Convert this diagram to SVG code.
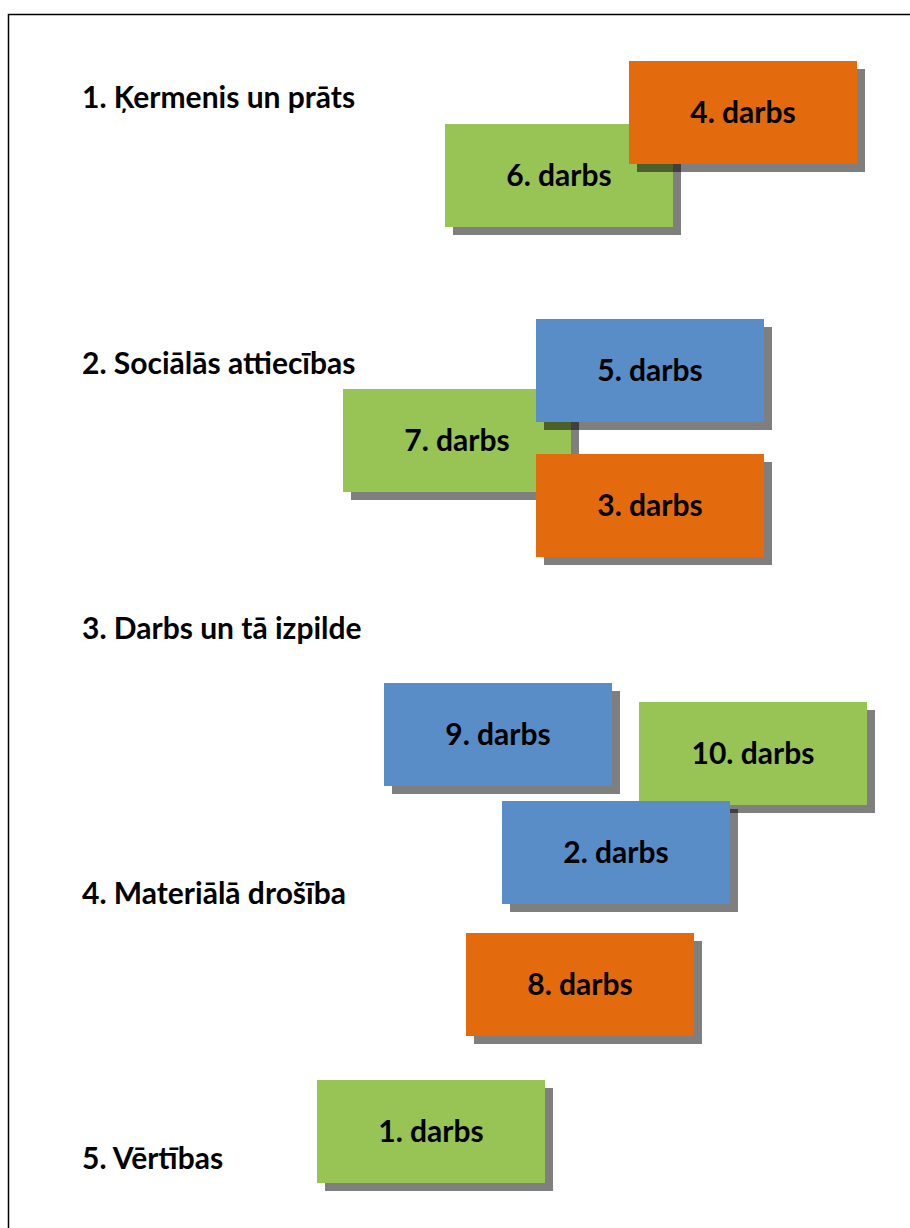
<svg xmlns="http://www.w3.org/2000/svg" width="910" height="1228" viewBox="0 0 910 1228">
  <style>
    text { font-family: Lato, "Open Sans", "Liberation Sans", sans-serif; font-weight: bold; font-size: 30px; fill: #000; }
    .label { text-anchor: middle; }
    .shadow { fill: #000; fill-opacity: 0.5; }
    .green { fill: #98c355; }
    .orange { fill: #e36b0e; }
    .blue { fill: #588dc8; }
  </style>
  <defs>
    <!-- one card: a drop shadow offset 8px, then the coloured face -->
    <rect id="card-shadow" x="8" y="8" width="228" height="103"/>
    <rect id="card-face" x="0" y="0" width="228" height="103"/>
  </defs>

  <rect x="0" y="0" width="910" height="1228" fill="#fff"/>
  <!-- page frame, running off the right and bottom edges -->
  <path d="M8.5,1228 V14.5 H910" fill="none" stroke="#000" stroke-width="1.5"/>

  <!-- section headings -->
  <g id="heading-1"><text x="82" y="108">1. Ķermenis un prāts</text></g>
  <g id="heading-2"><text x="82" y="374">2. Sociālās attiecības</text></g>
  <g id="heading-3"><text x="82" y="639">3. Darbs un tā izpilde</text></g>
  <g id="heading-4"><text x="82" y="904">4. Materiālā drošība</text></g>
  <g id="heading-5"><text x="82" y="1169">5. Vērtības</text></g>

  <g id="connectors"></g>

  <!-- work cards, drawn back to front -->
  <g id="darbs-6" transform="translate(445,124)">
    <use href="#card-shadow" class="shadow"/><use href="#card-face" class="green"/>
    <text class="label" x="114" y="62">6. darbs</text>
  </g>
  <g id="darbs-4" transform="translate(629,61)">
    <use href="#card-shadow" class="shadow"/><use href="#card-face" class="orange"/>
    <text class="label" x="114" y="62">4. darbs</text>
  </g>
  <g id="darbs-7" transform="translate(343,389)">
    <use href="#card-shadow" class="shadow"/><use href="#card-face" class="green"/>
    <text class="label" x="114" y="62">7. darbs</text>
  </g>
  <g id="darbs-5" transform="translate(536,319)">
    <use href="#card-shadow" class="shadow"/><use href="#card-face" class="blue"/>
    <text class="label" x="114" y="62">5. darbs</text>
  </g>
  <g id="darbs-3" transform="translate(536,454)">
    <use href="#card-shadow" class="shadow"/><use href="#card-face" class="orange"/>
    <text class="label" x="114" y="62">3. darbs</text>
  </g>
  <g id="darbs-9" transform="translate(384,683)">
    <use href="#card-shadow" class="shadow"/><use href="#card-face" class="blue"/>
    <text class="label" x="114" y="62">9. darbs</text>
  </g>
  <g id="darbs-10" transform="translate(639,702)">
    <use href="#card-shadow" class="shadow"/><use href="#card-face" class="green"/>
    <text class="label" x="114" y="62">10. darbs</text>
  </g>
  <g id="darbs-2" transform="translate(502,801)">
    <use href="#card-shadow" class="shadow"/><use href="#card-face" class="blue"/>
    <text class="label" x="114" y="62">2. darbs</text>
  </g>
  <g id="darbs-8" transform="translate(466,933)">
    <use href="#card-shadow" class="shadow"/><use href="#card-face" class="orange"/>
    <text class="label" x="114" y="62">8. darbs</text>
  </g>
  <g id="darbs-1" transform="translate(317,1080)">
    <use href="#card-shadow" class="shadow"/><use href="#card-face" class="green"/>
    <text class="label" x="114" y="62">1. darbs</text>
  </g>
</svg>
